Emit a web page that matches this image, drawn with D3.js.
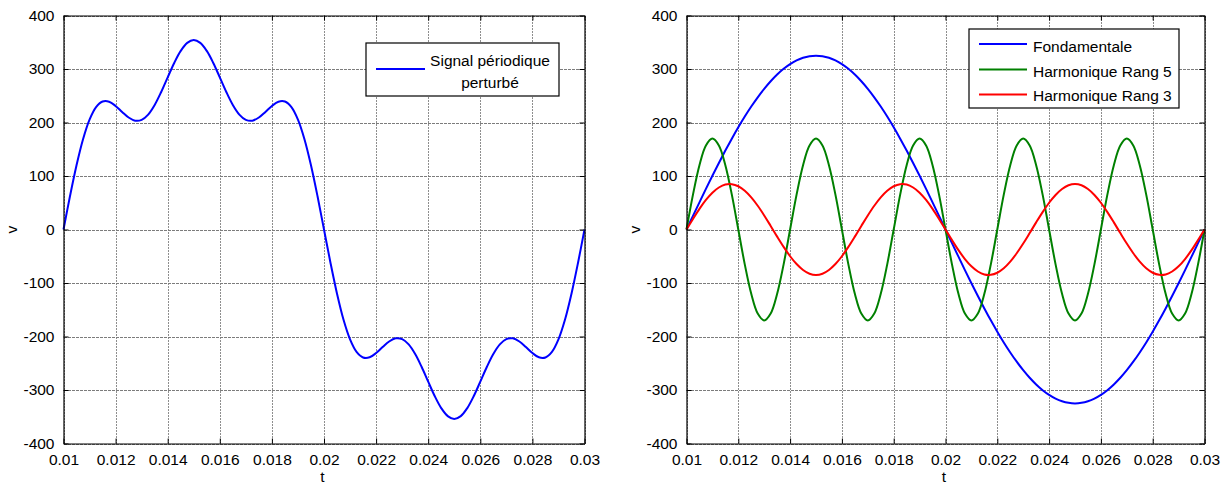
<!DOCTYPE html>
<html>
<head>
<meta charset="utf-8">
<script src="https://cdn.jsdelivr.net/npm/d3@7/dist/d3.min.js"></script>
<style>
  html, body { margin: 0; padding: 0; background: #fff; }
  svg { display: block; font-family: "Liberation Sans", Arial, sans-serif; }
</style>
</head>
<body>
<svg id="chart" width="1225" height="486"></svg>
<script>
// Sampling grid: t from 0.01 s to 0.03 s, one sample every 0.25 ms (81 samples)
const tStart = 0.01;
const tStep = 0.00025;

// Distorted periodic signal (fundamental + 3rd and 5th harmonic content), volts
const signalPerturbe = [
  0, 62.5, 120.1, 168.8, 205.4, 228.8, 239.2, 238.9, 230.9, 219.7,
  209.3, 203.4, 204.9, 214.8, 232.8, 257.0, 284.4, 311.3, 333.8, 348.8,
  354, 348.8, 333.8, 311.3, 284.4, 257.0, 232.8, 214.8, 204.9, 203.4,
  209.3, 219.7, 230.9, 238.9, 239.2, 228.8, 205.4, 168.8, 120.1, 62.5,
  0, -62.5, -120.1, -168.8, -205.4, -228.8, -239.2, -238.9, -230.9, -219.7,
  -209.3, -203.4, -204.9, -214.8, -232.8, -257.0, -284.4, -311.3, -333.8, -348.8,
  -354, -348.8, -333.8, -311.3, -284.4, -257.0, -232.8, -214.8, -204.9, -203.4,
  -209.3, -219.7, -230.9, -238.9, -239.2, -228.8, -205.4, -168.8, -120.1, -62.5,
  0
];

// Fundamental component, volts
const fondamentale = [
  0, 25.5, 50.8, 75.9, 100.4, 124.4, 147.5, 169.8, 191.0, 211.1,
  229.8, 247.1, 262.9, 277.1, 289.6, 300.3, 309.1, 316.0, 321.0, 324.0,
  325, 324.0, 321.0, 316.0, 309.1, 300.3, 289.6, 277.1, 262.9, 247.1,
  229.8, 211.1, 191.0, 169.8, 147.5, 124.4, 100.4, 75.9, 50.8, 25.5,
  0, -25.5, -50.8, -75.9, -100.4, -124.4, -147.5, -169.8, -191.0, -211.1,
  -229.8, -247.1, -262.9, -277.1, -289.6, -300.3, -309.1, -316.0, -321.0, -324.0,
  -325, -324.0, -321.0, -316.0, -309.1, -300.3, -289.6, -277.1, -262.9, -247.1,
  -229.8, -211.1, -191.0, -169.8, -147.5, -124.4, -100.4, -75.9, -50.8, -25.5,
  0
];

// 5th harmonic, volts
const harmoniqueRang5 = [
  0, 65.1, 120.2, 157.1, 170, 157.1, 120.2, 65.1, 0, -65.1,
  -120.2, -157.1, -170, -157.1, -120.2, -65.1, 0, 65.1, 120.2, 157.1,
  170, 157.1, 120.2, 65.1, 0, -65.1, -120.2, -157.1, -170, -157.1,
  -120.2, -65.1, 0, 65.1, 120.2, 157.1, 170, 157.1, 120.2, 65.1,
  0, -65.1, -120.2, -157.1, -170, -157.1, -120.2, -65.1, 0, 65.1,
  120.2, 157.1, 170, 157.1, 120.2, 65.1, 0, -65.1, -120.2, -157.1,
  -170, -157.1, -120.2, -65.1, 0, 65.1, 120.2, 157.1, 170, 157.1,
  120.2, 65.1, 0, -65.1, -120.2, -157.1, -170, -157.1, -120.2, -65.1,
  0
];

// 3rd harmonic, volts
const harmoniqueRang3 = [
  0, 19.8, 38.6, 55.2, 68.8, 78.5, 84.0, 84.7, 80.8, 72.5,
  60.1, 44.4, 26.3, 6.7, -13.3, -32.5, -50.0, -64.6, -75.7, -82.7,
  -85, -82.7, -75.7, -64.6, -50.0, -32.5, -13.3, 6.7, 26.3, 44.4,
  60.1, 72.5, 80.8, 84.7, 84.0, 78.5, 68.8, 55.2, 38.6, 19.8,
  0, -19.8, -38.6, -55.2, -68.8, -78.5, -84.0, -84.7, -80.8, -72.5,
  -60.1, -44.4, -26.3, -6.7, 13.3, 32.5, 50.0, 64.6, 75.7, 82.7,
  85, 82.7, 75.7, 64.6, 50.0, 32.5, 13.3, -6.7, -26.3, -44.4,
  -60.1, -72.5, -80.8, -84.7, -84.0, -78.5, -68.8, -55.2, -38.6, -19.8,
  0
];

// Axis ticks
const xTicks = [0.01, 0.012, 0.014, 0.016, 0.018, 0.02, 0.022, 0.024, 0.026, 0.028, 0.03];
const xTickLabels = ["0.01", "0.012", "0.014", "0.016", "0.018", "0.02", "0.022", "0.024", "0.026", "0.028", "0.03"];
const yTicks = [-400, -300, -200, -100, 0, 100, 200, 300, 400];
const yTickLabels = ["-400", "-300", "-200", "-100", "0", "100", "200", "300", "400"];

const svg = d3.select("#chart");
const FONT = 15.5;

function toPoints(values) {
  return values.map((v, i) => ({ t: tStart + i * tStep, v }));
}

function panel(cfg) {
  const x = d3.scaleLinear().domain([0.01, 0.03]).range([cfg.left, cfg.right]);
  const y = d3.scaleLinear().domain([-400, 400]).range([cfg.bottom, cfg.top]);
  const w = cfg.right - cfg.left, h = cfg.bottom - cfg.top;
  const g = svg.append("g");

  // grid
  g.append("g")
    .attr("transform", `translate(0,${cfg.bottom})`)
    .call(d3.axisBottom(x).tickValues(xTicks).tickSize(-h).tickFormat(""))
    .call(a => a.select(".domain").remove())
    .call(a => a.selectAll("line").attr("stroke", "#8e8e8e").attr("stroke-width", 1)
      .attr("stroke-dasharray", "2,1").attr("shape-rendering", "crispEdges"));
  g.append("g")
    .attr("transform", `translate(${cfg.left},0)`)
    .call(d3.axisLeft(y).tickValues(yTicks).tickSize(-w).tickFormat(""))
    .call(a => a.select(".domain").remove())
    .call(a => a.selectAll("line").attr("stroke", "#7c7c7c").attr("stroke-width", 1)
      .attr("stroke-dasharray", "3,1").attr("shape-rendering", "crispEdges"));

  // curves
  const line = d3.line().x(d => x(d.t)).y(d => y(d.v)).curve(d3.curveCatmullRom);
  cfg.series.forEach(s => {
    g.append("path")
      .datum(toPoints(s.values))
      .attr("fill", "none")
      .attr("stroke", s.color)
      .attr("stroke-width", 2)
      .attr("stroke-linejoin", "round")
      .attr("d", line);
  });

  // axes (box with inward ticks on all four sides)
  const styleAxis = a => {
    a.select(".domain").attr("stroke", "#000").attr("stroke-width", 1.2);
    a.selectAll(".tick line").attr("stroke", "#000").attr("stroke-width", 1);
    a.selectAll("text").attr("font-size", FONT).attr("fill", "#000")
      .attr("font-family", "'Liberation Sans', Arial, sans-serif");
  };
  g.append("g")
    .attr("transform", `translate(0,${cfg.bottom})`)
    .call(d3.axisBottom(x).tickValues(xTicks).tickSizeInner(-5).tickSizeOuter(0)
      .tickPadding(10).tickFormat((d, i) => xTickLabels[i]))
    .call(styleAxis);
  g.append("g")
    .attr("transform", `translate(0,${cfg.top})`)
    .call(d3.axisTop(x).tickValues(xTicks).tickSizeInner(-5).tickSizeOuter(0).tickFormat(""))
    .call(styleAxis);
  g.append("g")
    .attr("transform", `translate(${cfg.left},0)`)
    .call(d3.axisLeft(y).tickValues(yTicks).tickSizeInner(-5).tickSizeOuter(0)
      .tickPadding(9).tickFormat((d, i) => yTickLabels[i]))
    .call(styleAxis);
  g.append("g")
    .attr("transform", `translate(${cfg.right},0)`)
    .call(d3.axisRight(y).tickValues(yTicks).tickSizeInner(-5).tickSizeOuter(0).tickFormat(""))
    .call(styleAxis);

  // axis titles
  g.append("text")
    .attr("x", cfg.left + w / 2 - 1.5).attr("y", 482)
    .attr("text-anchor", "middle").attr("font-size", FONT).text("t");
  g.append("text")
    .attr("transform", `translate(${cfg.yLabelX},${cfg.top + h / 2}) rotate(-90)`)
    .attr("text-anchor", "middle").attr("font-size", FONT).text("v");

  // legend
  const L = cfg.legend;
  const lg = g.append("g");
  lg.append("rect")
    .attr("x", L.x).attr("y", L.y).attr("width", L.w).attr("height", L.h)
    .attr("fill", "#fff").attr("stroke", "#000").attr("stroke-width", 1.2);
  L.items.forEach(it => {
    lg.append("line")
      .attr("x1", L.lineX1).attr("x2", L.lineX2).attr("y1", it.lineY).attr("y2", it.lineY)
      .attr("stroke", it.color).attr("stroke-width", 2);
    it.lines.forEach((txt, j) => {
      lg.append("text")
        .attr("x", L.textX).attr("y", it.baseY + j * 22)
        .attr("text-anchor", L.anchor).attr("font-size", FONT).text(txt);
    });
  });
}

panel({
  left: 63.5, right: 584.5, top: 15.5, bottom: 443.5, yLabelX: 17,
  series: [{ values: signalPerturbe, color: "#0000ff" }],
  legend: {
    x: 366, y: 43, w: 193, h: 53, lineX1: 376, lineX2: 425, textX: 490, anchor: "middle",
    items: [{ color: "#0000ff", lineY: 69, baseY: 66, lines: ["Signal périodique", "perturbé"] }]
  }
});

panel({
  left: 686.5, right: 1204.5, top: 15.5, bottom: 443.5, yLabelX: 640,
  series: [
    { values: fondamentale, color: "#0000ff" },
    { values: harmoniqueRang5, color: "#008000" },
    { values: harmoniqueRang3, color: "#ff0000" }
  ],
  legend: {
    x: 969, y: 29, w: 210, h: 79, lineX1: 979, lineX2: 1027, textX: 1033, anchor: "start",
    items: [
      { color: "#0000ff", lineY: 44, baseY: 51.5, lines: ["Fondamentale"] },
      { color: "#008000", lineY: 69.5, baseY: 76.5, lines: ["Harmonique Rang 5"] },
      { color: "#ff0000", lineY: 94.5, baseY: 101, lines: ["Harmonique Rang 3"] }
    ]
  }
});
</script>
</body>
</html>
